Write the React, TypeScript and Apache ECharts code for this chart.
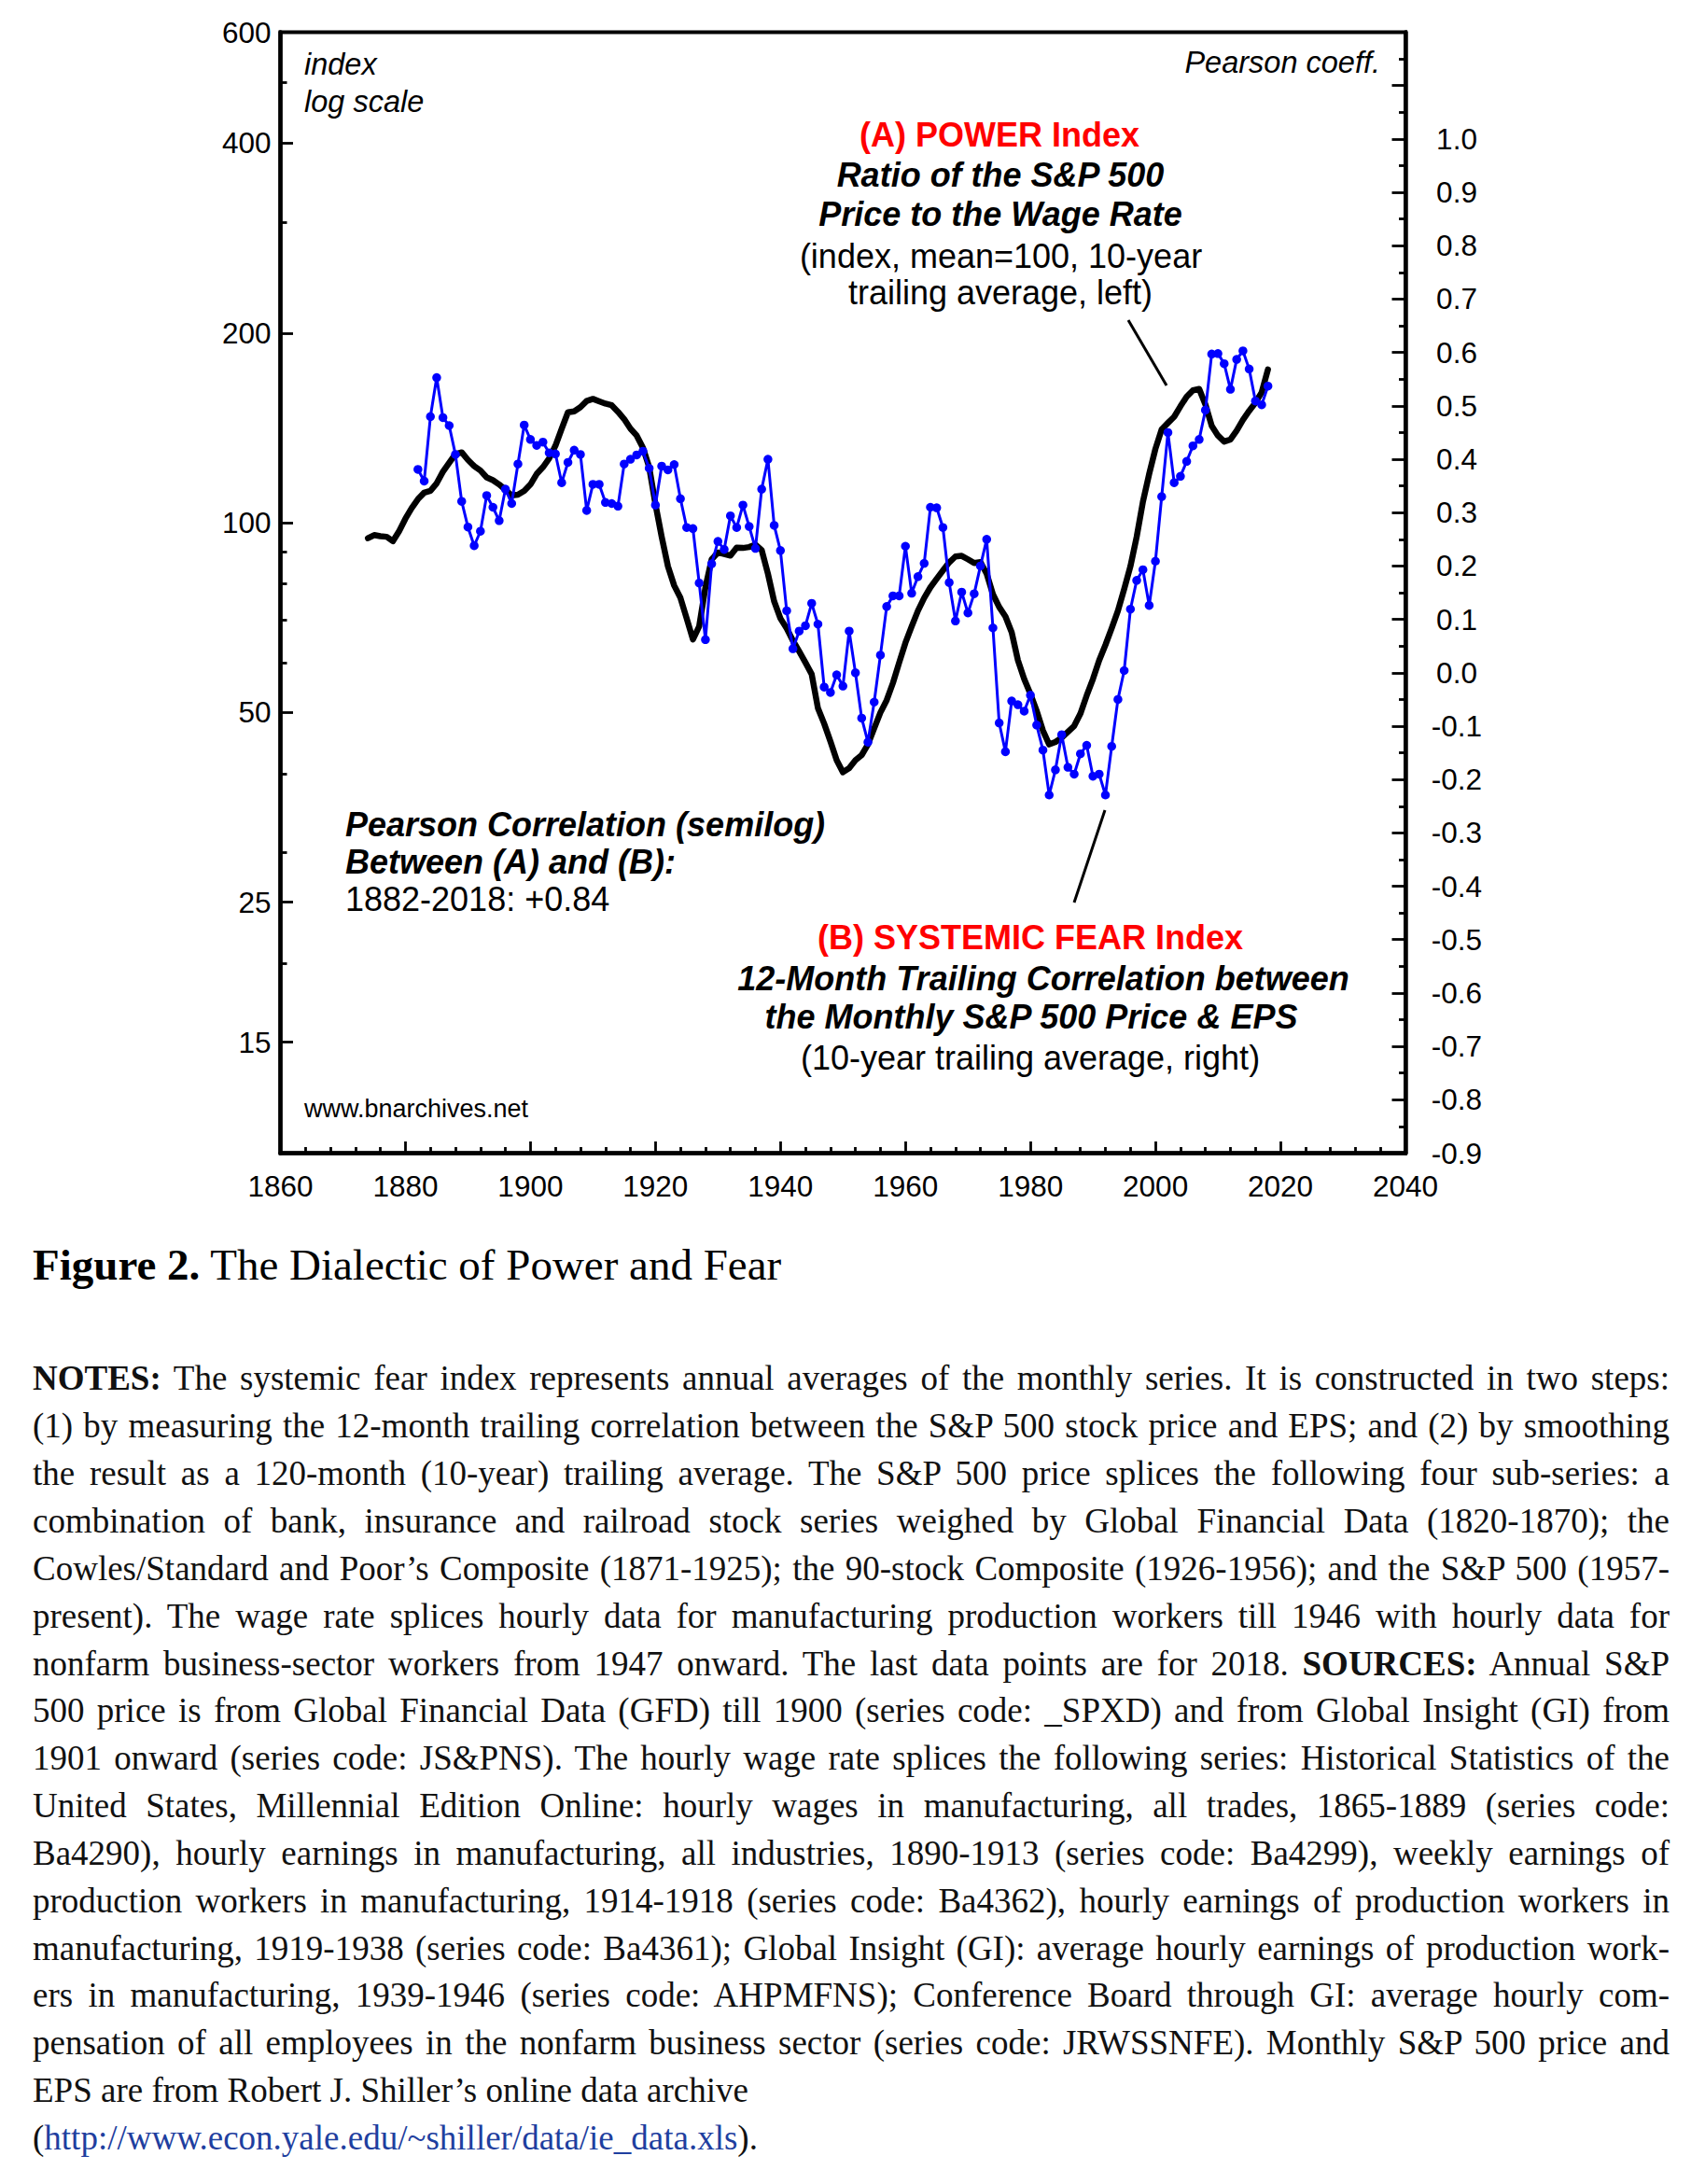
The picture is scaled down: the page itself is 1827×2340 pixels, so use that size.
import React, { useEffect, useRef } from 'react';
import * as echarts from 'echarts';

// ---------- data ----------
// (A) POWER Index, 10-year trailing average (left, log scale), annual 1874-2018
const POWER_FIRST_YEAR = 1874;
const POWER_INDEX = [
  94.5, 95.6, 95.2, 95, 93.5, 97,
  101.5, 105.5, 109, 111.6, 112.4, 115.5, 120.5, 124.5, 128.5, 129.3,
  125.8, 123, 121, 118, 116.8, 115, 112.8, 110.5, 110.8, 112.3,
  115, 119.5, 122.5, 126.5, 132.5, 141, 149.7, 150.2, 152.5, 156,
  157.2, 155.8, 154.5, 153.6, 150, 146, 141, 137.5, 131.5, 122.5,
  107, 95, 85.3, 79.5, 76, 70.5, 65.3, 68.5, 79, 87.5,
  89.7, 89.2, 88.7, 91.3, 91.2, 91.5, 92.3, 90.5, 83, 75,
  70.5, 68, 65, 62.5, 60, 57.5, 50.8, 48, 45, 42,
  40.2, 40.8, 42, 42.8, 44.5, 47.2, 50, 52.3, 55.7, 60,
  64.5, 68.5, 72.5, 76, 79, 81.5, 84, 86.5, 88.4, 88.6,
  87.5, 86.3, 86.6, 83, 77, 73.5, 71, 67, 60.5, 56.5,
  53.5, 50.3, 46.8, 44.5, 44.9, 45.6, 46.6, 47.6, 49.8, 53.2,
  56.5, 60.5, 64, 68, 72.5, 78.5, 85.3, 95, 108, 119.5,
  131, 140.7, 144, 147.3, 153, 158.5, 162.2, 163, 154, 142.5,
  137.5, 134.5, 135.5, 140, 145.6, 150.5, 155, 161, 175,
];

// (B) SYSTEMIC FEAR Index, Pearson coefficient (right), annual 1882-2018
const FEAR_FIRST_YEAR = 1882;
const FEAR_INDEX = [
  0.381, 0.359, 0.480, 0.553, 0.478, 0.463, 0.409, 0.321,
  0.273, 0.238, 0.265, 0.332, 0.310, 0.285, 0.344, 0.317, 0.391, 0.464,
  0.437, 0.426, 0.432, 0.412, 0.410, 0.356, 0.394, 0.417, 0.409, 0.304,
  0.353, 0.353, 0.319, 0.317, 0.312, 0.391, 0.400, 0.408, 0.415, 0.383,
  0.314, 0.387, 0.380, 0.390, 0.326, 0.272, 0.270, 0.168, 0.062, 0.204,
  0.246, 0.231, 0.294, 0.272, 0.314, 0.274, 0.233, 0.344, 0.400, 0.276,
  0.229, 0.116, 0.045, 0.078, 0.088, 0.130, 0.091, -0.027, -0.037, -0.004,
  -0.025, 0.078, 0.000, -0.085, -0.130, -0.055, 0.033, 0.124, 0.144, 0.144,
  0.237, 0.149, 0.180, 0.205, 0.310, 0.309, 0.272, 0.169, 0.097, 0.151,
  0.112, 0.148, 0.200, 0.250, 0.084, -0.094, -0.148, -0.053, -0.060, -0.072,
  -0.042, -0.098, -0.145, -0.229, -0.182, -0.116, -0.177, -0.190, -0.152, -0.136,
  -0.194, -0.190, -0.229, -0.138, -0.050, 0.004, 0.119, 0.173, 0.193, 0.126,
  0.209, 0.330, 0.450, 0.356, 0.368, 0.396, 0.425, 0.437, 0.492, 0.597,
  0.598, 0.579, 0.531, 0.587, 0.603, 0.569, 0.509, 0.502, 0.537,
];

// tick values
const LEFT_MAJOR_TICKS = [15, 25, 50, 100, 200, 400, 600];
const LEFT_MINOR_TICKS = [20, 30, 40, 60, 70, 80, 90, 300, 500];
const X_MIN = 1860;
const X_MAX = 2040;
const X_STEP = 20;
const LEFT_MIN = 10;
const LEFT_MAX = 600;
const RIGHT_MIN = -0.9;
const RIGHT_MAX = 1.2;
const RIGHT_STEP = 0.1;
const RIGHT_LABEL_MAX = 1.0;

const CAPTION_BOLD = 'Figure 2.';
const CAPTION_TEXT = ' The Dialectic of Power and Fear';

const NOTE_LINES = [
  'NOTES: The systemic fear index represents annual averages of the monthly series. It is constructed in two steps:',
  '(1) by measuring the 12-month trailing correlation between the S&P 500 stock price and EPS; and (2) by smoothing',
  'the result as a 120-month (10-year) trailing average. The S&P 500 price splices the following four sub-series: a',
  'combination of bank, insurance and railroad stock series weighed by Global Financial Data (1820-1870); the',
  'Cowles/Standard and Poor\u2019s Composite (1871-1925); the 90-stock Composite (1926-1956); and the S&P 500 (1957-',
  'present). The wage rate splices hourly data for manufacturing production workers till 1946 with hourly data for',
  'nonfarm business-sector workers from 1947 onward. The last data points are for 2018. SOURCES: Annual S&P',
  '500 price is from Global Financial Data (GFD) till 1900 (series code: _SPXD) and from Global Insight (GI) from',
  '1901 onward (series code: JS&PNS). The hourly wage rate splices the following series: Historical Statistics of the',
  'United States, Millennial Edition Online: hourly wages in manufacturing, all trades, 1865-1889 (series code:',
  'Ba4290), hourly earnings in manufacturing, all industries, 1890-1913 (series code: Ba4299), weekly earnings of',
  'production workers in manufacturing, 1914-1918 (series code: Ba4362), hourly earnings of production workers in',
  'manufacturing, 1919-1938 (series code: Ba4361); Global Insight (GI): average hourly earnings of production work-',
  'ers in manufacturing, 1939-1946 (series code: AHPMFNS); Conference Board through GI: average hourly com-',
  'pensation of all employees in the nonfarm business sector (series code: JRWSSNFE). Monthly S&P 500 price and',
  'EPS are from Robert J. Shiller\u2019s online data archive',
];
const NOTE_URL = 'http://www.econ.yale.edu/~shiller/data/ie_data.xls';

// ---------- styling ----------
const SANS = '"Liberation Sans", Arial, sans-serif';
const SERIF = '"Liberation Serif", "Times New Roman", serif';
const TICK_FONT = 31.5;
const ANN_FONT = 36;

function txt(text: string, x: number, y: number, font: string, align: string, fill = '#000') {
  return {
    type: 'text',
    x,
    y,
    silent: true,
    z: 100,
    style: {
      text,
      font,
      fill,
      textAlign: align,
      textVerticalAlign: 'middle',
      align,
      verticalAlign: 'middle',
    },
  };
}

const fReg = (s: number) => `normal ${s}px ${SANS}`;
const fBold = (s: number) => `bold ${s}px ${SANS}`;
const fBI = (s: number) => `italic bold ${s}px ${SANS}`;
const fIt = (s: number) => `italic ${s}px ${SANS}`;

function buildOption() {
  const axisColor = '#000';
  const powerData = POWER_INDEX.map((v, i) => [POWER_FIRST_YEAR + i, v]);
  const fearData = FEAR_INDEX.map((v, i) => [FEAR_FIRST_YEAR + i, v]);

  return {
    animation: false,
    backgroundColor: '#fff',
    grid: {
      left: 300.5,
      top: 34.5,
      width: 1205.5,
      height: 1201,
      show: true,
      borderColor: '#000',
      borderWidth: 4,
      backgroundColor: 'transparent',
    },
    xAxis: {
      type: 'value',
      min: X_MIN,
      max: X_MAX,
      interval: X_STEP,
      position: 'bottom',
      axisLine: { show: true, onZero: false, lineStyle: { color: axisColor, width: 4.5 } },
      axisTick: { show: true, inside: true, length: 12.5, lineStyle: { color: axisColor, width: 2.8 } },
      minorTick: { show: true, splitNumber: 5, length: 6.5, lineStyle: { color: axisColor, width: 2.8 } },
      splitLine: { show: false },
      axisLabel: {
        show: true,
        margin: 19,
        color: '#000',
        fontSize: TICK_FONT,
        fontFamily: SANS,
        formatter: (v: number) => String(Math.round(v)),
      },
    },
    yAxis: [
      {
        type: 'log',
        logBase: 10,
        min: LEFT_MIN,
        max: LEFT_MAX,
        position: 'left',
        axisLine: { show: true, onZero: false, lineStyle: { color: axisColor, width: 4.5 } },
        axisTick: {
          show: true,
          inside: true,
          length: 13.5,
          customValues: LEFT_MAJOR_TICKS,
          lineStyle: { color: axisColor, width: 2.8 },
        },
        axisLabel: {
          show: true,
          margin: 10,
          customValues: LEFT_MAJOR_TICKS,
          color: '#000',
          fontSize: TICK_FONT,
          fontFamily: SANS,
          formatter: (v: number) => String(Math.round(v)),
        },
        splitLine: { show: false },
        minorTick: { show: false },
      },
      {
        type: 'log',
        logBase: 10,
        min: LEFT_MIN,
        max: LEFT_MAX,
        position: 'left',
        axisLine: { show: false },
        axisTick: {
          show: true,
          inside: true,
          length: 7,
          customValues: LEFT_MINOR_TICKS,
          lineStyle: { color: axisColor, width: 2.8 },
        },
        axisLabel: { show: false },
        splitLine: { show: false },
      },
      {
        type: 'value',
        min: RIGHT_MIN,
        max: RIGHT_MAX,
        interval: RIGHT_STEP,
        position: 'right',
        axisLine: { show: true, onZero: false, lineStyle: { color: axisColor, width: 4.5 } },
        axisTick: { show: true, inside: true, length: 14.5, lineStyle: { color: axisColor, width: 2.8 } },
        minorTick: { show: true, splitNumber: 2, length: 7, lineStyle: { color: axisColor, width: 2.8 } },
        splitLine: { show: false },
        axisLabel: {
          show: true,
          margin: 55,
          align: 'center',
          color: '#000',
          fontSize: TICK_FONT,
          fontFamily: SANS,
          showMinLabel: true,
          showMaxLabel: true,
          formatter: (v: number) => {
            if (v > RIGHT_LABEL_MAX + 0.001) return '';
            if (Math.abs(v) < 1e-9) return '0.0';
            return v.toFixed(1);
          },
        },
      },
    ],
    series: [
      {
        name: 'POWER Index',
        type: 'line',
        xAxisIndex: 0,
        yAxisIndex: 0,
        data: powerData,
        showSymbol: false,
        symbol: 'none',
        lineStyle: { color: '#000', width: 6.5, join: 'round', cap: 'round' },
        z: 3,
      },
      {
        name: 'SYSTEMIC FEAR Index',
        type: 'line',
        xAxisIndex: 0,
        yAxisIndex: 2,
        data: fearData,
        symbol: 'circle',
        symbolSize: 9.5,
        showSymbol: true,
        itemStyle: { color: '#0000ff' },
        lineStyle: { color: '#0000ff', width: 3 },
        z: 4,
      },
    ],
    graphic: {
      elements: [
        txt('index', 326, 69, fIt(TICK_FONT + 1), 'left'),
        txt('log scale', 326, 109, fIt(TICK_FONT + 1), 'left'),
        txt('Pearson coeff.', 1479, 67, fIt(TICK_FONT + 1), 'right'),

        txt('(A) POWER Index', 1071, 144.5, fBold(ANN_FONT), 'center', '#ff0000'),
        txt('Ratio of the S&P 500', 1072, 187, fBI(ANN_FONT), 'center'),
        txt('Price to the Wage Rate', 1072, 229, fBI(ANN_FONT), 'center'),
        txt('(index, mean=100, 10-year', 1072.5, 274.5, fReg(ANN_FONT), 'center'),
        txt('trailing average, left)', 1072, 313, fReg(ANN_FONT), 'center'),

        txt('Pearson Correlation (semilog)', 370, 883, fBI(ANN_FONT), 'left'),
        txt('Between (A) and (B):', 370, 923.5, fBI(ANN_FONT), 'left'),
        txt('1882-2018: +0.84', 370, 963, fReg(ANN_FONT), 'left'),

        txt('(B) SYSTEMIC FEAR Index', 1104, 1004.5, fBold(ANN_FONT), 'center', '#ff0000'),
        txt('12-Month Trailing Correlation between', 1118, 1048, fBI(ANN_FONT), 'center'),
        txt('the Monthly S&P 500 Price & EPS', 1105, 1089.5, fBI(ANN_FONT), 'center'),
        txt('(10-year trailing average, right)', 1104, 1133, fReg(ANN_FONT), 'center'),

        txt('www.bnarchives.net', 326, 1188, fReg(27), 'left'),

        {
          type: 'line',
          silent: true,
          z: 100,
          shape: { x1: 1209, y1: 343, x2: 1250, y2: 413 },
          style: { stroke: '#000', lineWidth: 3 },
        },
        {
          type: 'line',
          silent: true,
          z: 100,
          shape: { x1: 1184, y1: 868, x2: 1151, y2: 967 },
          style: { stroke: '#000', lineWidth: 3 },
        },
      ],
    },
  };
}

function renderNoteLine(line: string) {
  const parts = line.split(/(NOTES:|SOURCES:)/);
  return parts.map((p, i) =>
    p === 'NOTES:' || p === 'SOURCES:' ? <b key={i}>{p}</b> : <React.Fragment key={i}>{p}</React.Fragment>
  );
}

const NOTE_FONT = 37;
const NOTE_LINE_H = 50.85;
const NOTE_TOP = 1452.4;
const NOTE_LEFT = 35;
const NOTE_WIDTH = 1754;

export default function App() {
  const ref = useRef<HTMLDivElement>(null);
  useEffect(() => {
    if (!ref.current) return;
    const chart = echarts.init(ref.current, null, { renderer: 'svg' });
    chart.setOption(buildOption() as any);
    return () => {
      chart.dispose();
    };
  }, []);

  const allLines = NOTE_LINES.length + 1;
  return (
    <div
      style={{
        position: 'absolute',
        left: 0,
        top: 0,
        width: 1827,
        height: 2340,
        background: '#fff',
        overflow: 'hidden',
      }}
    >
      <div ref={ref} style={{ position: 'absolute', left: 0, top: 0, width: 1827, height: 1300 }} />
      <div
        style={{
          position: 'absolute',
          left: 35,
          top: 1331.6,
          fontFamily: SERIF,
          fontSize: 47,
          lineHeight: '47px',
          color: '#000',
          whiteSpace: 'nowrap',
        }}
      >
        <b>{CAPTION_BOLD}</b>
        {CAPTION_TEXT}
      </div>
      {NOTE_LINES.map((line, i) => {
        const justify = i < NOTE_LINES.length - 1;
        return (
          <div
            key={i}
            style={{
              position: 'absolute',
              left: NOTE_LEFT,
              top: NOTE_TOP + i * NOTE_LINE_H,
              width: NOTE_WIDTH,
              height: NOTE_LINE_H,
              fontFamily: SERIF,
              fontSize: NOTE_FONT,
              lineHeight: `${NOTE_LINE_H}px`,
              color: '#111',
              textAlign: justify ? 'justify' : 'left',
              textAlignLast: justify ? 'justify' : 'left',
              overflow: 'visible',
            } as React.CSSProperties}
          >
            {renderNoteLine(line)}
          </div>
        );
      })}
      <div
        style={{
          position: 'absolute',
          left: NOTE_LEFT,
          top: NOTE_TOP + (allLines - 1) * NOTE_LINE_H,
          width: NOTE_WIDTH,
          fontFamily: SERIF,
          fontSize: NOTE_FONT,
          lineHeight: `${NOTE_LINE_H}px`,
          color: '#111',
          whiteSpace: 'nowrap',
        }}
      >
        (<span style={{ color: '#1f3f9f' }}>{NOTE_URL}</span>).
      </div>
    </div>
  );
}
